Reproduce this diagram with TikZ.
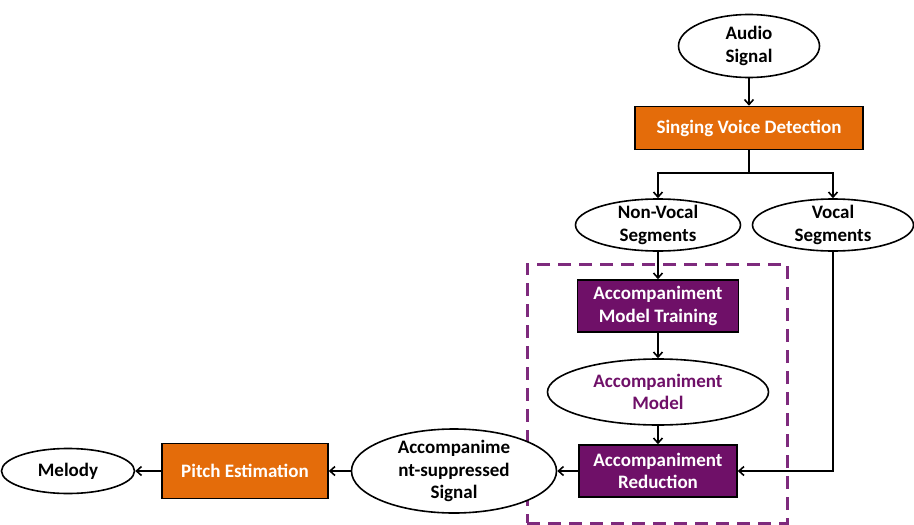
\documentclass[tikz,border=0pt]{standalone}
\usepackage{fontspec}
\setmainfont{Carlito}
\usetikzlibrary{shapes.geometric,arrows.meta}
\definecolor{orangebox}{HTML}{E46C0A}
\definecolor{plum}{HTML}{6F1068}
\definecolor{plumline}{HTML}{7E2A7D}
\begin{document}
\begin{tikzpicture}[x=1pt,y=-1pt,
  every node/.style={font=\fontsize{19}{22.5}\selectfont\bfseries},
  ell/.style={ellipse, draw, line width=1.6pt, fill=white, inner sep=0},
  txt/.style={align=center, inner sep=0},
  box/.style={rectangle, draw, line width=1.6pt, inner sep=0, text=white, align=center},
  orangestep/.style={box, fill=orangebox},
  plumstep/.style={box, fill=plum},
  arr/.style={line width=1.6pt, -{Straight Barb[length=5pt,width=9pt]}},
  plain/.style={line width=1.6pt},
  groupbox/.style={draw=plumline, line width=3pt, dash pattern=on 13pt off 8pt, inner sep=0}]
\useasboundingbox (0,0) rectangle (914,525);

% processing group
\node[groupbox, minimum width=260pt, minimum height=259pt] (grp) at (657,393.5) {};

% top part
\node[ell, minimum width=141pt, minimum height=63pt] (audio) at (749,46) {};
\node[txt] (audiot) at (audio) {Audio\\Signal};
\node[orangestep, minimum width=228pt, minimum height=43pt] (svd) at (749,128) {Singing Voice Detection};
\coordinate (split) at (749,173);
\node[ell, minimum width=165pt, minimum height=52pt] (nv) at (658,225) {};
\node[txt] (nvt) at (nv) {Non-Vocal\\Segments};
\node[ell, minimum width=161pt, minimum height=52pt] (voc) at (833,225) {};
\node[txt] (voct) at (voc) {Vocal\\Segments};

% accompaniment modelling
\node[plumstep, minimum width=161pt, minimum height=52pt] (amt) at (658,306) {Accompaniment\\Model Training};
\node[ell, minimum width=221pt, minimum height=66pt] (am) at (658,392) {};
\node[txt, text=plum] (amtx) at (am) {Accompaniment\\Model};
\node[plumstep, minimum width=158pt, minimum height=52pt] (ar) at (658,471) {Accompaniment\\Reduction};

% bottom chain
\node[ell, minimum width=205pt, minimum height=84pt] (sig) at (454,471) {};
\node[txt] (sigt) at (sig) {Accompanime\\nt-suppressed\\Signal};
\node[orangestep, minimum width=166pt, minimum height=55pt] (pe) at (245,471) {Pitch Estimation};
\node[ell, minimum width=133pt, minimum height=45pt] (mel) at (68,471) {};
\node[txt] (melt) at (mel) {Melody};

% connectors
\draw[arr] (audio) -- (svd);
\draw[plain] (svd.south) -- (split);
\draw[arr] (split) -| (nv.north);
\draw[arr] (split) -| (voc.north);
\draw[arr] (nv) -- (amt);
\draw[arr] (amt) -- (am);
\draw[arr] (am) -- (ar);
\draw[arr] (voc.south) |- (ar.east);
\draw[arr] (ar) -- (sig);
\draw[arr] (sig) -- (pe);
\draw[arr] (pe) -- (mel);
\end{tikzpicture}
\end{document}
